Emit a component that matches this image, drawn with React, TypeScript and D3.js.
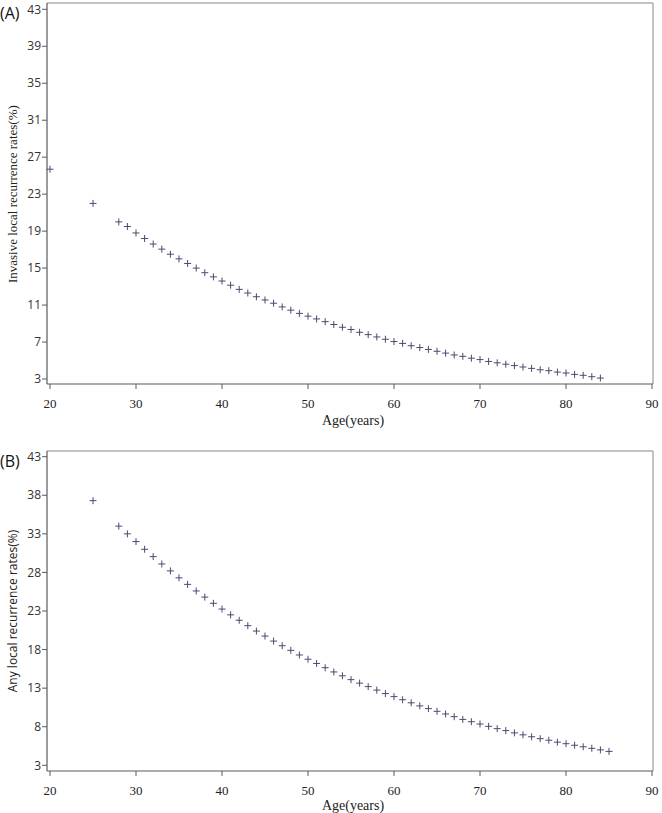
import React from "react";
import * as d3 from "d3";

const xTicks = [20, 30, 40, 50, 60, 70, 80, 90];
const yTicksA = [3, 7, 11, 15, 19, 23, 27, 31, 35, 39, 43];
const yTicksB = [3, 8, 13, 18, 23, 28, 33, 38, 43];

const agesA = [20, 25, 28, 29, 30, 31, 32, 33, 34, 35, 36, 37, 38, 39, 40, 41, 42, 43, 44, 45, 46, 47, 48, 49, 50, 51, 52, 53, 54, 55, 56, 57, 58, 59, 60, 61, 62, 63, 64, 65, 66, 67, 68, 69, 70, 71, 72, 73, 74, 75, 76, 77, 78, 79, 80, 81, 82, 83, 84];
const ratesA = [25.7, 22.0, 20.0, 19.5, 18.8, 18.2, 17.6, 17.05, 16.5, 16.0, 15.5, 15.0, 14.5, 14.05, 13.6, 13.15, 12.7, 12.3, 11.9, 11.55, 11.2, 10.8, 10.45, 10.1, 9.8, 9.5, 9.2, 8.9, 8.6, 8.35, 8.05, 7.8, 7.55, 7.3, 7.05, 6.85, 6.6, 6.4, 6.2, 6.0, 5.8, 5.6, 5.45, 5.25, 5.1, 4.9, 4.75, 4.6, 4.45, 4.3, 4.15, 4.0, 3.9, 3.75, 3.65, 3.5, 3.4, 3.25, 3.1];

const agesB = [25, 28, 29, 30, 31, 32, 33, 34, 35, 36, 37, 38, 39, 40, 41, 42, 43, 44, 45, 46, 47, 48, 49, 50, 51, 52, 53, 54, 55, 56, 57, 58, 59, 60, 61, 62, 63, 64, 65, 66, 67, 68, 69, 70, 71, 72, 73, 74, 75, 76, 77, 78, 79, 80, 81, 82, 83, 84, 85];
const ratesB = [37.3, 34.0, 33.0, 32.0, 31.0, 30.05, 29.1, 28.2, 27.3, 26.45, 25.6, 24.8, 24.0, 23.25, 22.5, 21.8, 21.1, 20.4, 19.75, 19.1, 18.5, 17.9, 17.3, 16.75, 16.2, 15.65, 15.1, 14.6, 14.1, 13.65, 13.2, 12.75, 12.3, 11.9, 11.5, 11.1, 10.7, 10.35, 10.0, 9.65, 9.3, 8.95, 8.65, 8.35, 8.05, 7.75, 7.5, 7.2, 6.95, 6.7, 6.45, 6.25, 6.0, 5.8, 5.6, 5.4, 5.2, 5.0, 4.8];

const SERIF = "'Liberation Serif', 'Times New Roman', serif";
const SANS = "'Open Sans', 'Noto Sans', 'DejaVu Sans', sans-serif";
const AXIS = "#5a5a5a";
const MARK = "#4a4a72";

type PanelProps = {
  label: string;
  yTitle: string;
  yTitleFont: string;
  yTitleSize: number;
  ages: number[];
  rates: number[];
  yTicks: number[];
  top: number;
  bottom: number;
  yTop: number;
  yBottom: number;
  titleY: number;
};

function Panel(p: PanelProps) {
  const left = 47;
  const right = 653;
  const x = d3.scaleLinear().domain([20, 90]).range([50, 652]);
  const y = d3.scaleLinear().domain([3, 43]).range([p.yBottom, p.yTop]);
  const pts = p.ages.map((a, i) => ({ a, v: p.rates[i] }));
  const cy = (p.yTop + p.yBottom) / 2;
  return (
    <g>
      <text x={0} y={p.top + 16} fontFamily={SANS} fontSize={16} fill="#111">
        {p.label}
      </text>
      <line x1={left} x2={right} y1={p.top} y2={p.top} stroke="#888" strokeWidth={1} />
      <line x1={right} x2={right} y1={p.top} y2={p.bottom} stroke="#888" strokeWidth={1} />
      <line x1={left} x2={left} y1={p.top} y2={p.bottom} stroke={AXIS} strokeWidth={1.2} />
      <line x1={left} x2={right} y1={p.bottom} y2={p.bottom} stroke={AXIS} strokeWidth={1.2} />
      {p.yTicks.map((t) => (
        <g key={"y" + t}>
          <line x1={left - 5} x2={left} y1={y(t)} y2={y(t)} stroke={AXIS} strokeWidth={1} />
          <text x={left - 6} y={y(t)} dy="0.35em" textAnchor="end" fontFamily={SANS} fontSize={12} fill="#333">
            {t}
          </text>
        </g>
      ))}
      {xTicks.map((t) => (
        <g key={"x" + t}>
          <line x1={x(t)} x2={x(t)} y1={p.bottom} y2={p.bottom + 5} stroke={AXIS} strokeWidth={1} />
          <text x={x(t)} y={p.bottom + 24} textAnchor="middle" fontFamily={SERIF} fontSize={13} fill="#222">
            {t}
          </text>
        </g>
      ))}
      <text x={353} y={p.titleY} textAnchor="middle" fontFamily={SERIF} fontSize={14} fill="#222">
        Age(years)
      </text>
      <text
        transform={`translate(17,${cy}) rotate(-90)`}
        textAnchor="middle"
        fontFamily={p.yTitleFont}
        fontSize={p.yTitleSize}
        fill="#222"
      >
        {p.yTitle}
      </text>
      {pts.map((d, i) => (
        <path
          key={i}
          d={`M${x(d.a) - 3.5},${y(d.v)}h7M${x(d.a)},${y(d.v) - 3.5}v7`}
          stroke={MARK}
          strokeWidth={1}
          fill="none"
        />
      ))}
    </g>
  );
}

export default function App() {
  return (
    <svg
      width={662}
      height={813}
      style={{ position: "absolute", left: 0, top: 0, background: "#fff" }}
    >
      <rect width={662} height={813} fill="#fff" />
      <Panel
        label="(A)"
        yTitle="Invasive local recurrence rates(%)"
        yTitleFont={SERIF}
        yTitleSize={13}
        ages={agesA}
        rates={ratesA}
        yTicks={yTicksA}
        top={3}
        bottom={384}
        yTop={9.3}
        yBottom={379}
        titleY={425}
      />
      <Panel
        label="(B)"
        yTitle="Any local recurrence rates(%)"
        yTitleFont={SANS}
        yTitleSize={12}
        ages={agesB}
        rates={ratesB}
        yTicks={yTicksB}
        top={451}
        bottom={771}
        yTop={456.7}
        yBottom={765.3}
        titleY={810}
      />
    </svg>
  );
}
